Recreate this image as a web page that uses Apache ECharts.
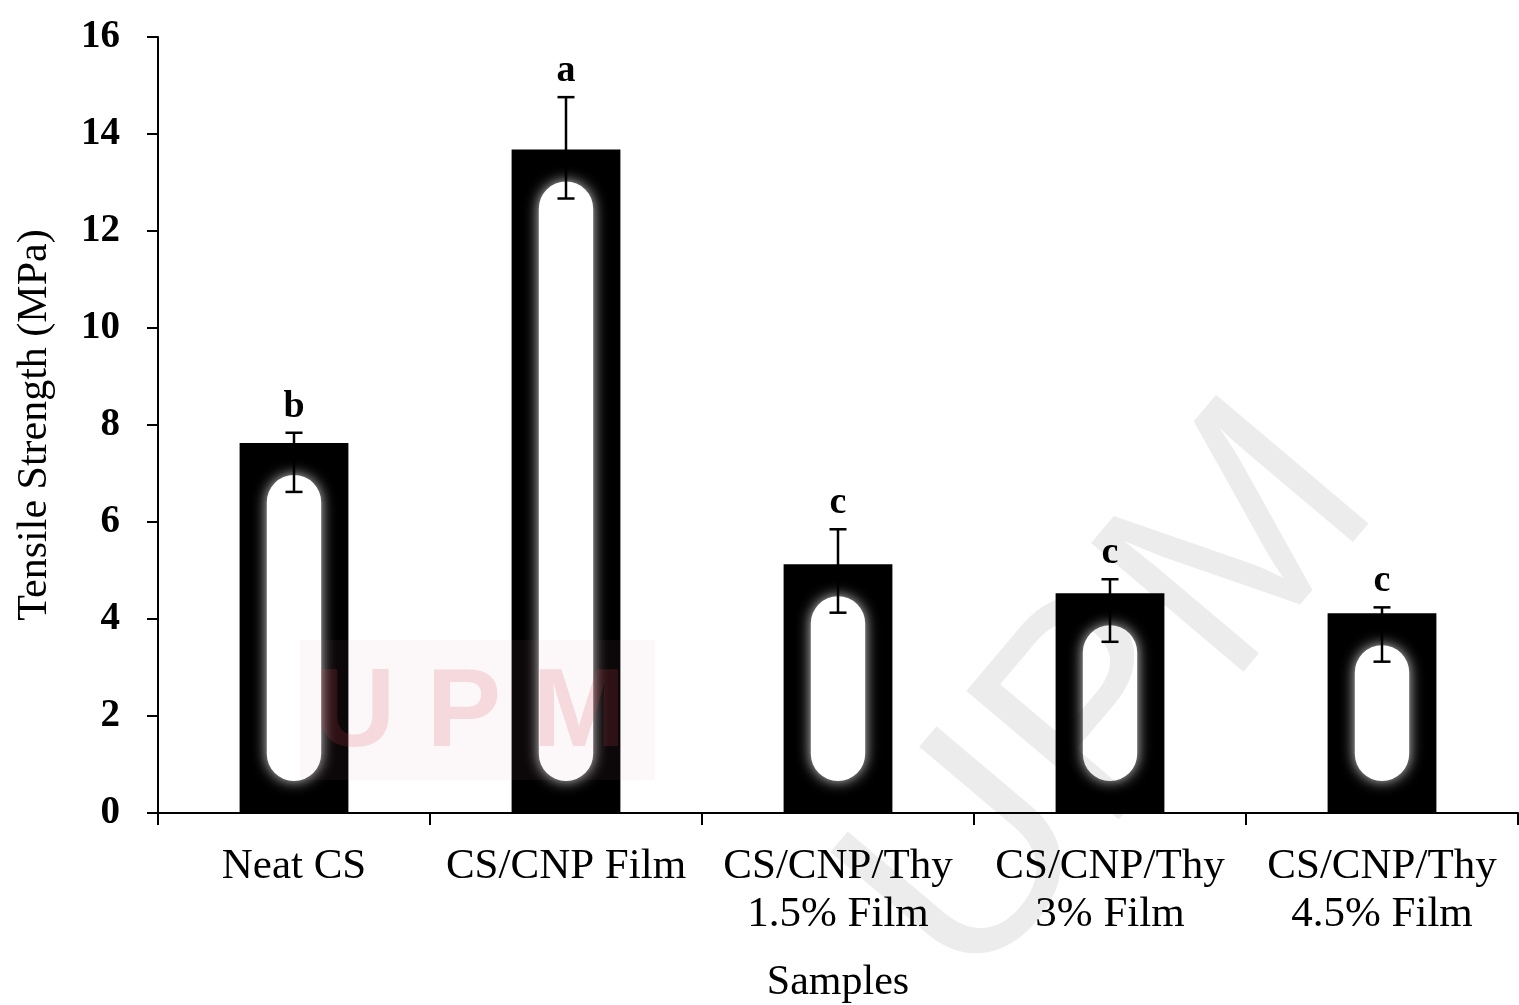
<!DOCTYPE html>
<html>
<head>
<meta charset="utf-8">
<script src="https://cdn.jsdelivr.net/npm/echarts@6/dist/echarts.min.js"></script>
<style>
html,body{margin:0;padding:0;background:#fff;}
#chart{width:1519px;height:1005px;}
</style>
</head>
<body>
<div id="chart"></div>
<script>
// ---- data ----
var categories = ['Neat CS', 'CS/CNP Film', 'CS/CNP/Thy\n1.5% Film', 'CS/CNP/Thy\n3% Film', 'CS/CNP/Thy\n4.5% Film'];
var tensileStrength = [7.63, 13.68, 5.13, 4.53, 4.12];
var errorUpper = [7.84, 14.76, 5.85, 4.82, 4.24];
var errorLower = [6.62, 12.67, 4.13, 3.53, 3.12];
var groupLetters = ['b', 'a', 'c', 'c', 'c'];
var yTicks = { min: 0, max: 16, interval: 2 };

var FONT = '"Liberation Serif", "Times New Roman", serif';

var errData = categories.map(function (c, i) {
  return [i, errorLower[i], errorUpper[i]];
});
var glowData = categories.map(function (c, i) { return [i, tensileStrength[i]]; });

var chart = echarts.init(document.getElementById('chart'));
chart.setOption({
  backgroundColor: '#fff',
  animation: false,
  graphic: [
    {
      type: 'text', x: 1115, y: 700, z: 100, rotation: 0.87, silent: true,
      style: { text: 'UPM', fill: 'rgba(0,0,0,0.075)', font: '290px "Liberation Sans", sans-serif', align: 'center', verticalAlign: 'middle' }
    },
    {
      type: 'rect', z: 99, silent: true,
      shape: { x: 300, y: 640, width: 355, height: 140 },
      style: { fill: 'rgba(200,120,130,0.06)' }
    },
    {
      type: 'text', x: 470, y: 715, z: 100, silent: true,
      style: { text: 'U P M', fill: 'rgba(215,70,90,0.17)', font: 'bold 112px "Liberation Sans", sans-serif', align: 'center', verticalAlign: 'middle' }
    }
  ],
  grid: { left: 158, right: 1, top: 37, bottom: 192, containLabel: false, outerBoundsMode: 'none' },
  xAxis: {
    type: 'category',
    data: categories,
    boundaryGap: true,
    name: 'Samples',
    nameLocation: 'middle',
    nameGap: 149,
    nameTextStyle: { fontFamily: FONT, fontSize: 42, color: '#000' },
    axisLine: { lineStyle: { color: '#000', width: 2 } },
    axisTick: { show: true, inside: false, length: 12, alignWithLabel: false, lineStyle: { color: '#000', width: 2 } },
    axisLabel: {
      interval: 0, hideOverlap: false, margin: 30,
      fontFamily: FONT, fontSize: 43, color: '#000', lineHeight: 48
    },
    splitLine: { show: false }
  },
  yAxis: {
    type: 'value',
    min: yTicks.min, max: yTicks.max, interval: yTicks.interval,
    name: 'Tensile Strength (MPa)',
    nameLocation: 'middle',
    nameGap: 102,
    nameTextStyle: { fontFamily: FONT, fontSize: 42, color: '#000' },
    axisLine: { show: true, lineStyle: { color: '#000', width: 2 } },
    axisTick: { show: true, inside: false, length: 11, lineStyle: { color: '#000', width: 2 } },
    axisLabel: { margin: 38, fontFamily: FONT, fontSize: 39, fontWeight: 'bold', color: '#000' },
    splitLine: { show: false }
  },
  series: [
    {
      type: 'bar',
      data: tensileStrength,
      barWidth: '40%',
      itemStyle: { color: '#000' },
      z: 2
    },
    {
      type: 'custom',
      data: glowData,
      z: 3,
      silent: true,
      renderItem: function (params, api) {
        var top = api.coord([api.value(0), api.value(1)]);
        var base = api.coord([api.value(0), 0]);
        var bw = api.size([1, 0])[0] * 0.4;
        var w = bw * 0.5;
        var yTop = top[1] + 32;
        var yBot = base[1] - 32;
        return {
          type: 'rect',
          shape: { x: top[0] - w / 2, y: yTop, width: w, height: yBot - yTop, r: w / 2 },
          style: { fill: '#fff', shadowBlur: 14, shadowColor: 'rgba(255,255,255,0.85)' }
        };
      }
    },
    {
      type: 'custom',
      data: errData,
      z: 5,
      renderItem: function (params, api) {
        var x = api.value(0);
        var lo = api.coord([x, api.value(1)]);
        var hi = api.coord([x, api.value(2)]);
        var cap = 8.5;
        var letter = groupLetters[params.dataIndex];
        return {
          type: 'group',
          children: [
            { type: 'line', shape: { x1: hi[0], y1: hi[1], x2: lo[0], y2: lo[1] }, style: { stroke: '#000', lineWidth: 2.5 } },
            { type: 'line', shape: { x1: hi[0] - cap, y1: hi[1], x2: hi[0] + cap, y2: hi[1] }, style: { stroke: '#000', lineWidth: 2.5 } },
            { type: 'line', shape: { x1: lo[0] - cap, y1: lo[1], x2: lo[0] + cap, y2: lo[1] }, style: { stroke: '#000', lineWidth: 2.5 } },
            {
              type: 'text',
              style: {
                text: letter, x: hi[0], y: hi[1] - 26,
                align: 'center', verticalAlign: 'middle',
                font: 'bold 38px ' + FONT, fill: '#000'
              }
            }
          ]
        };
      }
    }
  ]
});
</script>
</body>
</html>
